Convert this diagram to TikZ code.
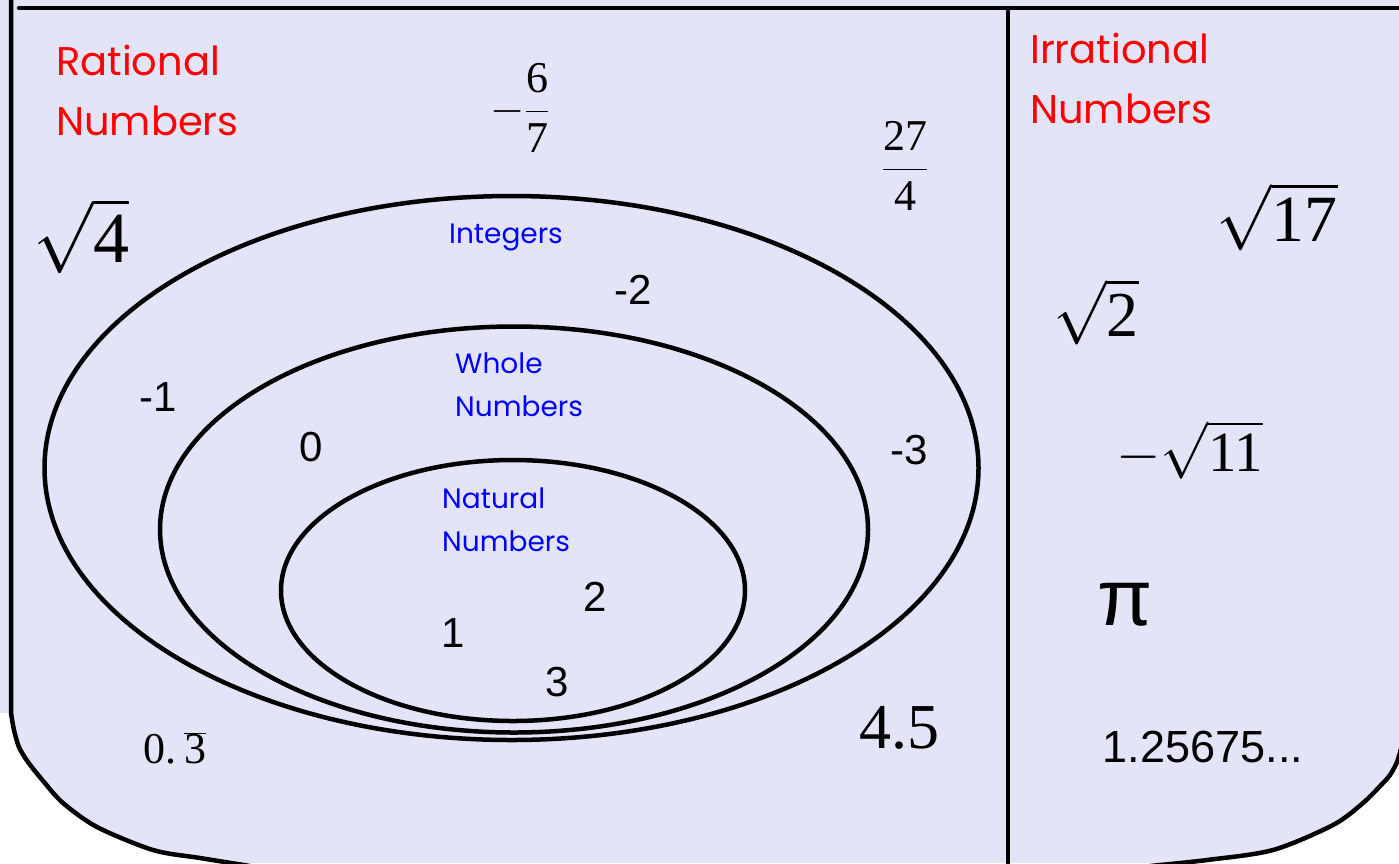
\RequirePackage{fix-cm}
\documentclass[tikz,border=0pt]{standalone}
\usepackage{fontspec}
\setmainfont{Liberation Serif}
\newfontfamily\arialf{Liberation Sans}
\newfontfamily\comicf{Poppins}
\newcommand\rd[1]{\mbox{#1}}
\definecolor{lav}{RGB}{228,228,248}
\begin{document}
\begin{tikzpicture}[x=1pt,y=-1pt,
  outline/.style={line width=4.5pt, line cap=round, line join=round},
  redlbl/.style={text=red, font=\comicf\fontsize{40}{60}\selectfont, align=left, inner sep=0pt},
  bluelbl/.style={text=blue, font=\comicf\fontsize{28}{43}\selectfont, align=left, inner sep=0pt},
  num/.style={font=\arialf\fontsize{42}{48}\selectfont, inner sep=0pt},
  mth/.style={inner sep=0pt}]
\useasboundingbox (0,0) rectangle (1399,863);
\fill[lav] (0,0) rectangle (1399,863);
% white outer corners
\fill[white] (-2,713) -- (11,713) -- plot[smooth] coordinates {(11,713) (14,730) (19,747) (28,762) (44,782) (63,803) (97,827) (153,850) (200,858) (250,866)} -- (-2,866) -- cycle;
\fill[white] (1402,745) -- plot[smooth] coordinates {(1402,745) (1397,762) (1390,775) (1383,783) (1363,803) (1333,825) (1273,850) (1207,860) (1150,866)} -- (1402,866) -- cycle;
% outline
\draw[outline] (11,-3) -- (11,713) -- plot[smooth] coordinates {(11,713) (14,730) (19,747) (28,762) (44,782) (63,803) (97,827) (153,850) (200,858) (250,866)};
\draw[outline] (19,8) -- (1402,8);
\draw[outline] plot[smooth] coordinates {(1402,745) (1397,762) (1390,775) (1383,783) (1363,803) (1333,825) (1273,850) (1207,860) (1150,866)};
\draw[outline] (1008,8) -- (1008,866);
% ellipses
\draw[outline] (511.5,468) ellipse [x radius=467, y radius=272];
\draw[outline] (514,529.5) ellipse [x radius=354, y radius=203];
\draw[outline] (513,590.5) ellipse [x radius=232, y radius=130.5];
% labels
\node[redlbl, anchor=west] (rat) at (56,90) {Rational\\Numbers};
\node[redlbl, anchor=west] (irr) at (1030,78) {Irrational\\Numbers};
\node[bluelbl] (int) at (506,238) {Integers};
\node[bluelbl, anchor=west] (whole) at (455,385) {Whole\\Numbers};
\node[bluelbl, anchor=west] (nat) at (442,520) {Natural\\Numbers};
% integers
\node[num] (m1) at (158,397) {-1};
\node[num] (m2) at (633,290) {-2};
\node[num] (z0) at (311,447) {0};
\node[num] (m3) at (909,450) {-3};
\node[num] (n2) at (595,597) {2};
\node[num] (n1) at (453,633) {1};
\node[num] (n3) at (557,682) {3};
% rationals
\node[mth, font=\fontsize{44}{50}\selectfont] (f67) at (520,108) {$\displaystyle -\frac{\rd{6}}{\rd{7}}$};
\node[mth, font=\fontsize{44}{50}\selectfont] (f274) at (905,166) {$\displaystyle \frac{\rd{27}}{\rd{4}}$};
\node[mth, font=\fontsize{72}{80}\selectfont] (s4) at (81,236) {$\sqrt{\rd{4}}$};
\node[mth, font=\fontsize{44}{50}\selectfont] (rep) at (175,748) {$\rd{0.}\,\overline{\rd{3}}$};
\node[mth, font=\fontsize{64}{70}\selectfont] (f45) at (899,728) {4.5};
% irrationals
\node[mth, font=\fontsize{66}{74}\selectfont] (s17) at (1277,217) {$\sqrt{\rd{17}}$};
\node[mth, font=\fontsize{64}{70}\selectfont] (s2) at (1096,312) {$\sqrt{\rd{2}}$};
\node[mth, font=\fontsize{57}{64}\selectfont] (s11) at (1190,450) {$-\sqrt{\rd{11}}$};
\node[inner sep=0pt, font=\arialf\fontsize{80}{84}\selectfont] (pi) at (1125,605) {π};
\node[num, font=\arialf\fontsize{45}{50}\selectfont] (dec) at (1203,747) {1.25675...};
\end{tikzpicture}
\end{document}
